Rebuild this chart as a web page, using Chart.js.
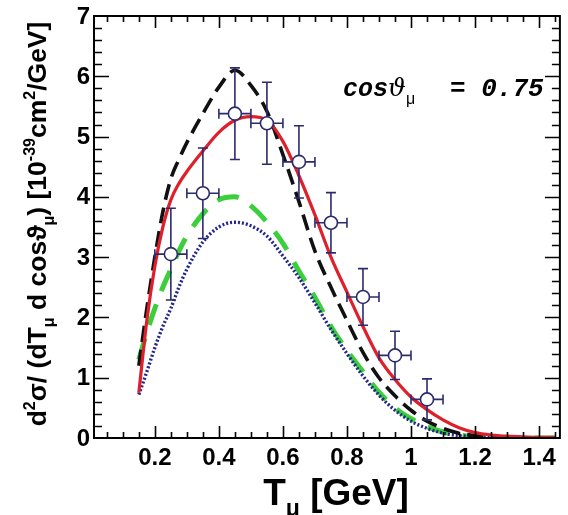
<!DOCTYPE html>
<html>
<head>
<meta charset="utf-8">
<script src="https://cdn.jsdelivr.net/npm/chart.js@4.4.0/dist/chart.umd.min.js"></script>
<style>
  html, body { margin: 0; padding: 0; background: #fff; }
  #wrap { width: 568px; height: 515px; position: relative; }
</style>
</head>
<body>
<div id="wrap"><canvas id="xsec"></canvas></div>
<script>
// muon kinetic energy grid for the model curves [GeV]
const tCurve = [0.15, 0.175, 0.2, 0.225, 0.25, 0.275, 0.3, 0.35, 0.4, 0.45, 0.5, 0.55, 0.6, 0.65, 0.7,
                0.75, 0.8, 0.85, 0.9, 0.95, 1.0, 1.05, 1.1, 1.15, 1.2, 1.25, 1.3, 1.35, 1.4, 1.45];

// full model (red solid)
const modelFull = [0.75, 1.95, 2.85, 3.5, 3.95, 4.22, 4.42, 4.76, 5.07, 5.27, 5.33, 5.27, 4.92, 4.35, 3.7,
                   3.0, 2.42, 1.85, 1.33, 0.97, 0.68, 0.47, 0.3, 0.17, 0.09, 0.05, 0.03, 0.02, 0.01, 0.01];
// black long-dashed
const modelDashed = [1.2, 2.15, 3.0, 3.75, 4.3, 4.62, 4.9, 5.38, 5.82, 6.1, 5.85, 5.42, 4.7, 3.92, 3.1,
                     2.5, 1.95, 1.42, 1.0, 0.7, 0.46, 0.28, 0.16, 0.08, 0.04, 0.02, 0.01, 0.0, 0.0, 0.0];
// green dashed
const modelGreen = [1.3, 1.75, 2.15, 2.5, 2.8, 3.1, 3.35, 3.72, 3.95, 4.0, 3.85, 3.58, 3.23, 2.77, 2.33,
                    1.85, 1.45, 1.1, 0.76, 0.5, 0.32, 0.19, 0.1, 0.05, 0.02, 0.01, 0.0, 0.0, 0.0, 0.0];
// blue dotted
const modelDotted = [0.72, 1.1, 1.5, 1.85, 2.15, 2.5, 2.8, 3.25, 3.5, 3.58, 3.52, 3.35, 3.02, 2.66, 2.24,
                     1.8, 1.4, 1.03, 0.71, 0.46, 0.28, 0.16, 0.08, 0.04, 0.02, 0.01, 0.0, 0.0, 0.0, 0.0];

// measured points
const tData = [0.25, 0.35, 0.45, 0.55, 0.65, 0.75, 0.85, 0.95, 1.05];
const xsData = [3.05, 4.06, 5.38, 5.22, 4.58, 3.57, 2.34, 1.37, 0.64];
const xsErr = [0.76, 0.75, 0.76, 0.68, 0.6, 0.5, 0.47, 0.4, 0.34];
const tErr = 0.05;

const xTickLabels = ["0.2", "0.4", "0.6", "0.8", "1", "1.2", "1.4"];
const yTickLabels = ["0", "1", "2", "3", "4", "5", "6", "7"];

const pts = (xs, ys) => xs.map((x, i) => ({ x: x, y: ys[i] }));

const SANS = '"Liberation Sans", Arial, sans-serif';
const MONO = 'bold italic {s}px "Liberation Mono", "DejaVu Sans Mono", monospace';
const MARK = '#2b2b6e';

// draws text runs with super/subscripts; returns the end x
function runText(ctx, x, y, parts, size, measureOnly) {
  let cx = x;
  for (const p of parts) {
    const s = p.s ? Math.round(size * 0.62) : size;
    const dy = p.s === 'sup' ? -size * 0.42 : p.s === 'sub' ? size * 0.3 : 0;
    ctx.font = (p.f || ('bold {s}px ' + SANS)).replace('{s}', s);
    if (!measureOnly) ctx.fillText(p.t, cx, y + dy);
    cx += ctx.measureText(p.t).width;
  }
  return cx;
}

const errorBars = {
  id: 'errorBars',
  beforeDatasetDraw(chart, args) {
    if (args.index !== 0) return;
    const { ctx, scales: { x, y } } = chart;
    ctx.save();
    ctx.strokeStyle = MARK;
    ctx.lineWidth = 1.6;
    const cap = 5;
    tData.forEach((t, i) => {
      const px = x.getPixelForValue(t), py = y.getPixelForValue(xsData[i]);
      const y1 = y.getPixelForValue(xsData[i] + xsErr[i]);
      const y0 = y.getPixelForValue(xsData[i] - xsErr[i]);
      const x0 = x.getPixelForValue(t - tErr), x1 = x.getPixelForValue(t + tErr);
      ctx.beginPath();
      ctx.moveTo(px, y0); ctx.lineTo(px, y1);
      ctx.moveTo(px - cap, y0); ctx.lineTo(px + cap, y0);
      ctx.moveTo(px - cap, y1); ctx.lineTo(px + cap, y1);
      ctx.moveTo(x0, py); ctx.lineTo(x1, py);
      ctx.moveTo(x0, py - cap); ctx.lineTo(x0, py + cap);
      ctx.moveTo(x1, py - cap); ctx.lineTo(x1, py + cap);
      ctx.stroke();
    });
    ctx.restore();
  }
};

const frame = {
  id: 'frame',
  afterDraw(chart) {
    const { ctx, chartArea: a, scales: { x, y } } = chart;
    ctx.save();
    ctx.strokeStyle = '#000';
    ctx.fillStyle = '#000';
    ctx.lineWidth = 2;
    ctx.strokeRect(a.left, a.top, a.right - a.left, a.bottom - a.top);

    ctx.lineWidth = 1.6;
    ctx.beginPath();
    for (let k = 1; k * 0.05 <= x.max + 1e-9; k++) {
      const v = k * 0.05;
      if (v < x.min) continue;
      const len = k % 4 === 0 ? 12 : 6;
      const px = Math.round(x.getPixelForValue(v)) + 0.5;
      ctx.moveTo(px, a.bottom); ctx.lineTo(px, a.bottom - len);
      ctx.moveTo(px, a.top); ctx.lineTo(px, a.top + len);
    }
    for (let k = 1; k * 0.2 < y.max - 1e-9; k++) {
      const len = k % 5 === 0 ? 15 : 8;
      const py = Math.round(y.getPixelForValue(k * 0.2)) + 0.5;
      ctx.moveTo(a.left, py); ctx.lineTo(a.left + len, py);
      ctx.moveTo(a.right, py); ctx.lineTo(a.right - len, py);
    }
    ctx.stroke();

    // tick labels
    ctx.font = 'bold 24px ' + SANS;
    ctx.textAlign = 'center';
    ctx.textBaseline = 'top';
    xTickLabels.forEach(l => ctx.fillText(l, x.getPixelForValue(parseFloat(l)), a.bottom + 8));
    ctx.textAlign = 'right';
    ctx.textBaseline = 'middle';
    yTickLabels.forEach(l => ctx.fillText(l, a.left - 4, y.getPixelForValue(parseFloat(l)) + 1));

    // axis titles
    ctx.textAlign = 'left';
    ctx.textBaseline = 'alphabetic';
    const xt = [{ t: 'T' }, { t: '\u03bc', s: 'sub' }, { t: ' [GeV]' }];
    const wx = runText(ctx, 0, 0, xt, 37, true);
    runText(ctx, 336 - wx / 2, 505, xt, 37);

    const yt = [{ t: 'd' }, { t: '2', s: 'sup' }, { t: '\u03c3/ (dT' }, { t: '\u03bc', s: 'sub' },
                { t: ' d cos\u03d1' }, { t: '\u03bc', s: 'sub' }, { t: ') [10' }, { t: '-39', s: 'sup' },
                { t: 'cm' }, { t: '2', s: 'sup' }, { t: '/GeV]' }];
    ctx.save();
    ctx.translate(46, 224);
    ctx.rotate(-Math.PI / 2);
    const wy = runText(ctx, 0, 0, yt, 26.5, true);
    runText(ctx, -wy / 2, 0, yt, 26.5);
    ctx.restore();

    // angle label
    runText(ctx, 343, 96, [
      { t: 'cos', f: MONO },
      { t: '\u03d1', f: 'italic {s}px "DejaVu Serif", serif' },
      { t: '\u03bc', s: 'sub', f: '{s}px ' + SANS }
    ], 25);
    runText(ctx, 450, 96, [{ t: '= 0.75', f: MONO }], 26);
    ctx.restore();
  }
};

const curve = (data, color, width, dash, order) => ({
  type: 'line',
  data: pts(tCurve, data),
  borderColor: color,
  borderWidth: width,
  borderDash: dash,
  pointRadius: 0,
  fill: false,
  cubicInterpolationMode: 'monotone',
  order: order
});

new Chart(document.getElementById('xsec'), {
  type: 'scatter',
  data: {
    datasets: [
      {
        type: 'scatter',
        data: pts(tData, xsData),
        pointStyle: 'circle',
        pointRadius: 6.5,
        pointBackgroundColor: '#ffffff',
        pointBorderColor: MARK,
        pointBorderWidth: 1.6,
        order: 0
      },
      curve(modelFull, '#de1f2c', 3.2, [], 1),
      curve(modelDashed, '#111111', 3.6, [16, 8], 2),
      curve(modelDotted, '#23268c', 3.4, [2, 2], 3),
      curve(modelGreen, '#3ccf3c', 5, [22, 14], 4)
    ]
  },
  options: {
    responsive: true,
    maintainAspectRatio: false,
    animation: false,
    layout: { padding: { left: 94, right: 2, top: 16, bottom: 77 } },
    scales: {
      x: { type: 'linear', min: 0.01, max: 1.465, display: false },
      y: { type: 'linear', min: 0, max: 7, display: false }
    },
    plugins: {
      legend: { display: false },
      tooltip: { enabled: false }
    }
  },
  plugins: [errorBars, frame]
});
</script>
</body>
</html>
